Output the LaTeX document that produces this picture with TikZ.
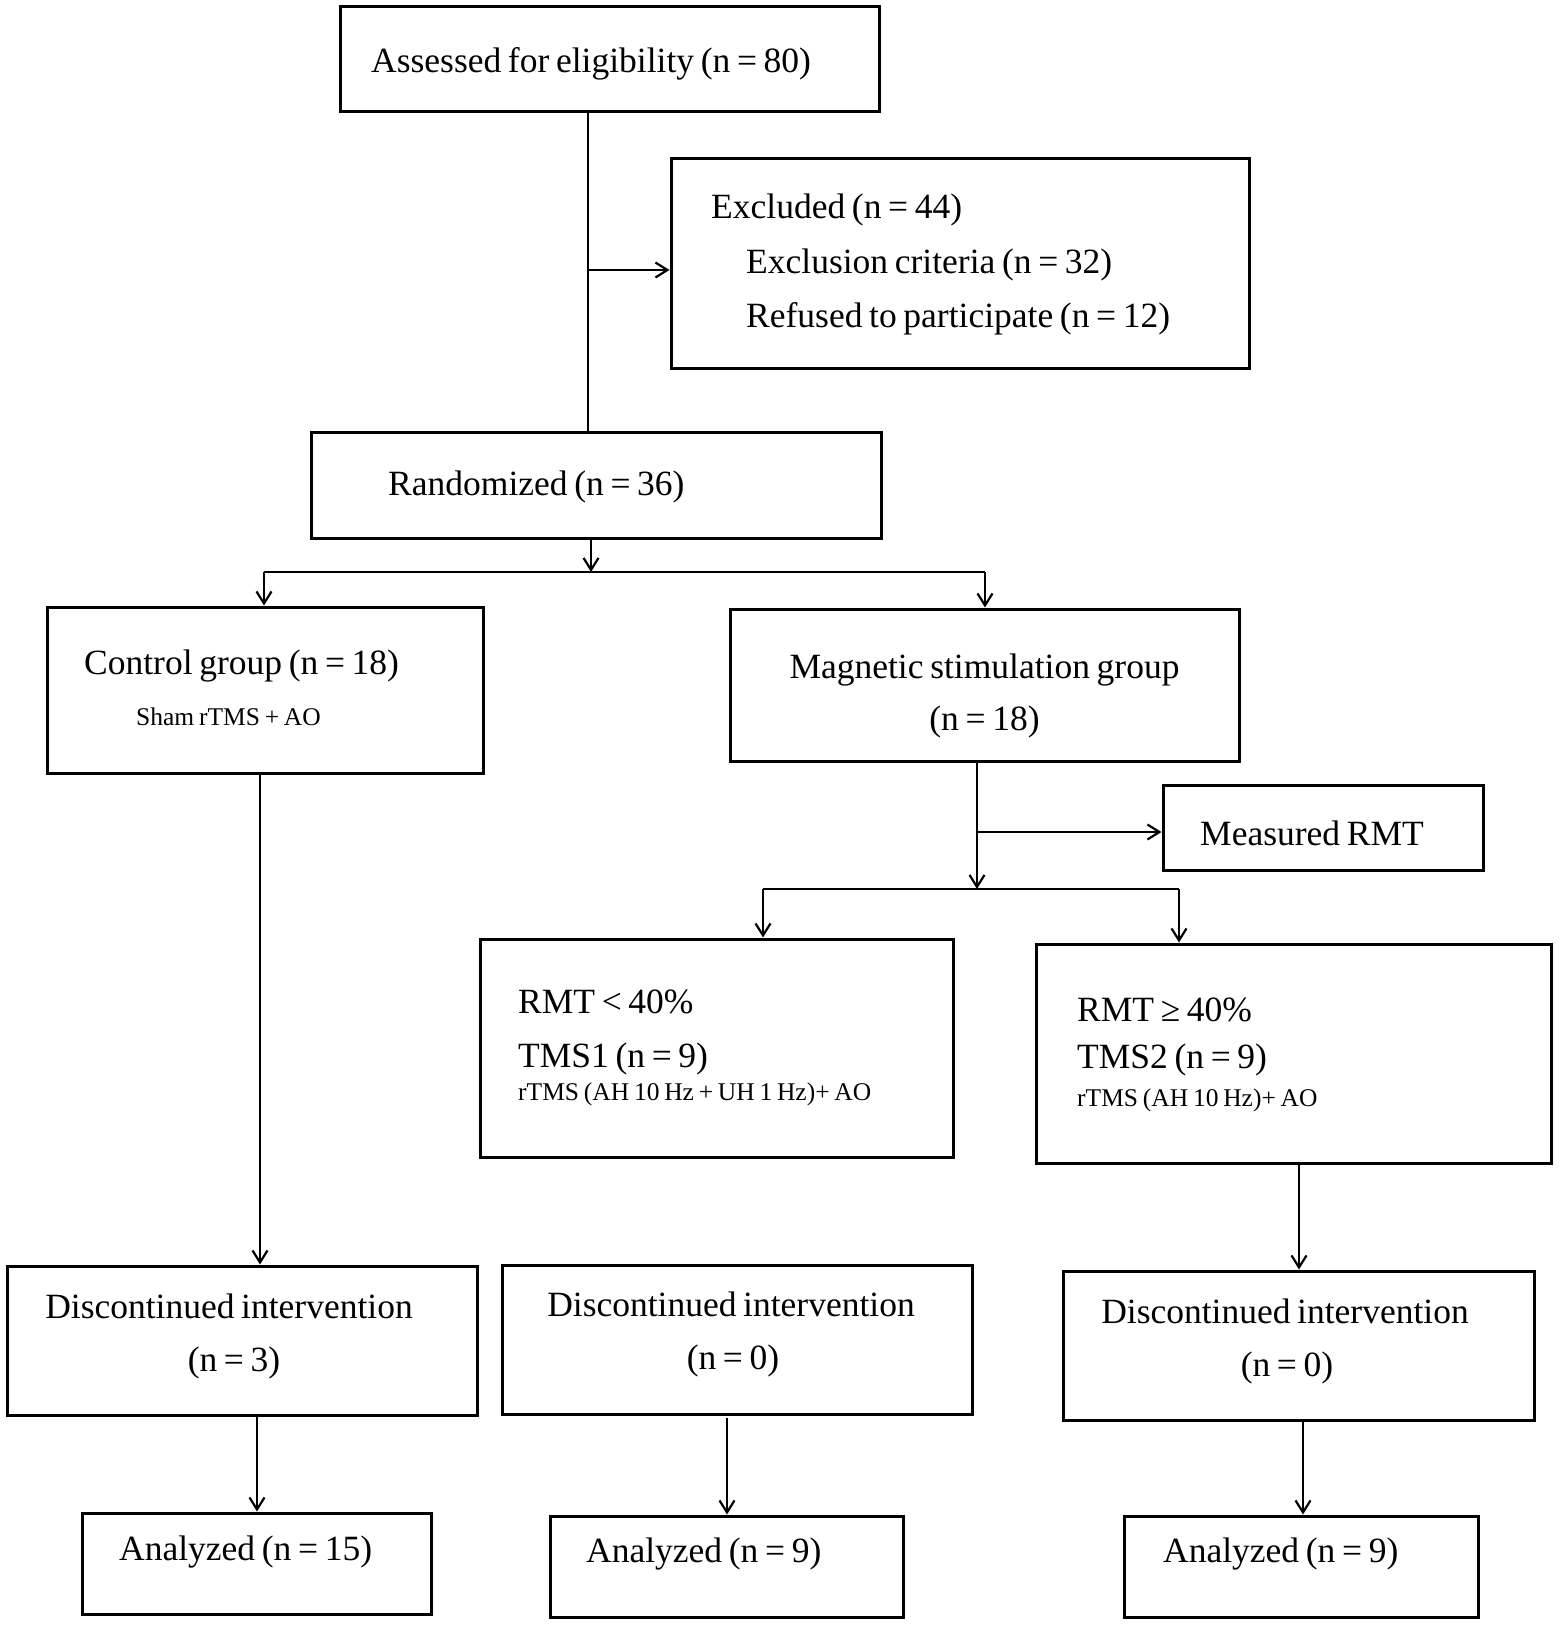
\documentclass[tikz,border=0pt]{standalone}
\usepackage{fontspec}
\setmainfont{Liberation Serif}[WordSpace=0.75]
\usetikzlibrary{arrows.meta}
\begin{document}
\begin{tikzpicture}[x=1pt,y=-1pt,
  box/.style={draw=black,line width=3pt,inner sep=0pt,rectangle},
  big/.style={inner sep=0pt,font=\fontsize{35.5}{43}\selectfont},
  small/.style={inner sep=0pt,font=\fontsize{25.5}{31}\selectfont},
  conn/.style={line width=2.6pt},
  arr/.style={line width=2.6pt,-{Straight Barb[length=12pt,width=15pt,line width=2.2pt]}}]
\useasboundingbox[fill=white] (0,0) rectangle (1559,1628);
% boxes
\node[box,minimum width=539pt,minimum height=105pt] (assess) at (609.5,58.5) {};
\node[box,minimum width=578pt,minimum height=210pt] (excl) at (960,263) {};
\node[box,minimum width=570pt,minimum height=106pt] (rand) at (596,485) {};
\node[box,minimum width=436pt,minimum height=166pt] (ctrl) at (265,690) {};
\node[box,minimum width=509pt,minimum height=152pt] (mag) at (984.5,685) {};
\node[box,minimum width=320pt,minimum height=85pt] (meas) at (1323,827.5) {};
\node[box,minimum width=473pt,minimum height=218pt] (tms1) at (716.5,1048) {};
\node[box,minimum width=515pt,minimum height=219pt] (tms2) at (1293.5,1053.5) {};
\node[box,minimum width=470pt,minimum height=149pt] (disc1) at (242,1340.5) {};
\node[box,minimum width=470pt,minimum height=149pt] (disc2) at (737,1339.5) {};
\node[box,minimum width=471pt,minimum height=149pt] (disc3) at (1298.5,1345.5) {};
\node[box,minimum width=349pt,minimum height=101pt] (an1) at (256.5,1563.5) {};
\node[box,minimum width=353pt,minimum height=101pt] (an2) at (726.5,1566.5) {};
\node[box,minimum width=354pt,minimum height=101pt] (an3) at (1301,1566.5) {};
% texts
\node[big,anchor=base west] (tassess) at (371,72) {Assessed for eligibility (n = 80)};
\node[big,anchor=base west] (texcl) at (711,218) {Excluded (n = 44)};
\node[big,anchor=base west] (texcl2) at (746,273) {Exclusion criteria (n = 32)};
\node[big,anchor=base west] (texcl3) at (746,327) {Refused to participate (n = 12)};
\node[big,anchor=base west] (trand) at (388,495) {Randomized (n = 36)};
\node[big,anchor=base west] (tctrl) at (84,674) {Control group (n = 18)};
\node[small,anchor=base west] (tctrl2) at (136,725) {Sham rTMS + AO};
\node[big,anchor=base] (tmag) at (984.5,678) {Magnetic stimulation group};
\node[big,anchor=base] (tmag2) at (984.5,730) {(n = 18)};
\node[big,anchor=base west] (tmeas) at (1200,845) {Measured RMT};
\node[big,anchor=base west] (ttms1a) at (518,1013) {RMT < 40\%};
\node[big,anchor=base west] (ttms1b) at (518,1067) {TMS1 (n = 9)};
\node[small,anchor=base west] (ttms1c) at (518,1100) {rTMS (AH 10 Hz + UH 1 Hz)+ AO};
\node[big,anchor=base west] (ttms2a) at (1077,1021) {RMT ≥ 40\%};
\node[big,anchor=base west] (ttms2b) at (1077,1068) {TMS2 (n = 9)};
\node[small,anchor=base west] (ttms2c) at (1077,1106) {rTMS (AH 10 Hz)+ AO};
\node[big,anchor=base] (tdisc1) at (229,1318) {Discontinued intervention};
\node[big,anchor=base] (tdisc1b) at (234,1371) {(n = 3)};
\node[big,anchor=base] (tdisc2) at (731,1316) {Discontinued intervention};
\node[big,anchor=base] (tdisc2b) at (733,1369) {(n = 0)};
\node[big,anchor=base] (tdisc3) at (1285,1323) {Discontinued intervention};
\node[big,anchor=base] (tdisc3b) at (1287,1376) {(n = 0)};
\node[big,anchor=base west] (tan1) at (119,1560) {Analyzed (n = 15)};
\node[big,anchor=base west] (tan2) at (586,1562) {Analyzed (n = 9)};
\node[big,anchor=base west] (tan3) at (1163,1562) {Analyzed (n = 9)};
% connectors
\coordinate (s1) at (588,111);
\coordinate (j1) at (588,270);
\draw[conn] (s1) -- (s1 |- rand.north);
\draw[arr] (j1) -- (j1 -| excl.west);
\coordinate (s2) at (591,538);
\coordinate (h2) at (591,572);
\coordinate (hl) at (264,572);
\coordinate (hr) at (985,572);
\draw[arr] (s2) -- (h2);
\draw[conn] (hl) -- (hr);
\draw[arr] (hl) -- (hl |- ctrl.north);
\draw[arr] (hr) -- (hr |- mag.north);
\coordinate (s3) at (977,761);
\coordinate (j3) at (977,832);
\coordinate (h3) at (977,889);
\draw[arr] (s3) -- (h3);
\draw[arr] (j3) -- (j3 -| meas.west);
\coordinate (hl3) at (763,889);
\coordinate (hr3) at (1179,889);
\draw[conn] (hl3) -- (hr3);
\draw[arr] (hl3) -- (hl3 |- tms1.north);
\draw[arr] (hr3) -- (hr3 |- tms2.north);
\coordinate (s4) at (260,773);
\draw[arr] (s4) -- (s4 |- disc1.north);
\coordinate (s5) at (1299,1163);
\draw[arr] (s5) -- (s5 |- disc3.north);
\coordinate (s6) at (257,1415);
\draw[arr] (s6) -- (s6 |- an1.north);
\coordinate (s7) at (727,1418);
\draw[arr] (s7) -- (s7 |- an2.north);
\coordinate (s8) at (1303,1420);
\draw[arr] (s8) -- (s8 |- an3.north);
\end{tikzpicture}
\end{document}
